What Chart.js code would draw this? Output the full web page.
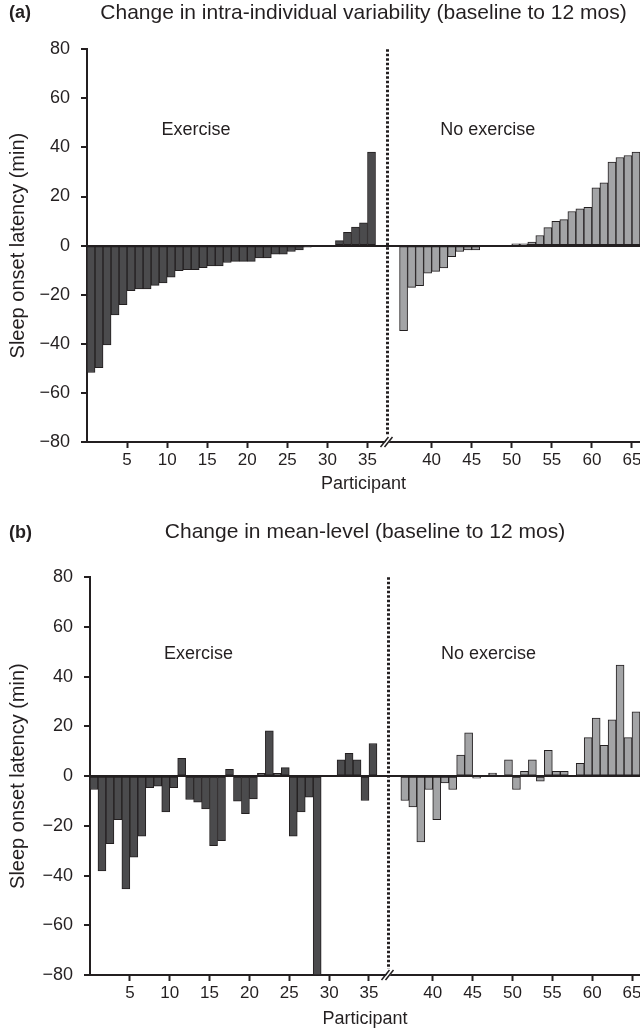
<!DOCTYPE html>
<html>
<head>
<meta charset="utf-8">
<script src="https://cdn.jsdelivr.net/npm/chart.js@4.4.1/dist/chart.umd.min.js"></script>
<style>
  body { margin: 0; background: #fff; width: 640px; height: 1035px; position: relative; overflow: hidden;
         font-family: "Liberation Sans", Arial, sans-serif; color: #231f20; }
  .panel { position: absolute; left: 0; width: 640px; }
  .tag { position: absolute; left: 9px; font-weight: bold; font-size: 18px; line-height: 20px; }
</style>
</head>
<body>
<div class="panel" style="top:0;height:505px"><canvas id="chartA" width="640" height="505"></canvas></div>
<div class="tag" style="top:2px">(a)</div>
<div class="panel" style="top:519px;height:516px"><canvas id="chartB" width="640" height="516"></canvas></div>
<div class="tag" style="top:522px">(b)</div>
<script>
// participants, split into the two groups
const exerciseIds = [1, 2, 3, 4, 5, 6, 7, 8, 9, 10, 11, 12, 13, 14, 15, 16, 17, 18,
  19, 20, 21, 22, 23, 24, 25, 26, 27, 28, 29, 30, 31, 32, 33, 34, 35, 36];
const noExerciseIds = [37, 38, 39, 40, 41, 42, 43, 44, 45, 46, 47, 48, 49, 50, 51,
  52, 53, 54, 55, 56, 57, 58, 59, 60, 61, 62, 63, 64, 65, 66];
const xTickLabels = [5, 10, 15, 20, 25, 30, 35, 40, 45, 50, 55, 60, 65];

// (a) change in intra-individual variability, minutes
const variabilityExercise = [-51.7, -49.7, -40.5, -28.2, -24.1, -18.4, -17.6, -17.6, -16.2, -15.2,
  -12.9, -10.2, -9.8, -9.8, -9.0, -8.3, -8.3, -6.9, -6.4, -6.4, -6.4, -5.0, -5.0, -3.5, -3.5,
  -2.4, -1.8, -0.6, 0, 0, 0, 2.0, 5.4, 7.5, 9.3, 38.1];
const variabilityNoExercise = [-34.7, -17.0, -16.3, -11.2, -10.5, -9.1, -4.5, -2.4, -1.8, -1.8,
  0, 0, 0, 0, 0.7, 0.7, 1.4, 4.1, 7.3, 9.9, 10.6, 13.9, 15.0, 15.6, 23.5, 25.6, 34.0, 35.9, 36.7, 38.1];

// (b) change in mean level, minutes
const meanExercise = [-5.4, -38.1, -27.2, -17.5, -45.4, -32.6, -24.2, -4.7, -4.0, -14.4,
  -4.7, 7.1, -9.4, -10.5, -13.2, -28.0, -26.0, 2.7, -10.1, -15.1, -9.2, 1.1, 18.2, 1.1, 3.4,
  -24.2, -14.4, -8.5, -80, 0, 0, 6.5, 9.2, 6.5, -9.8, 13.1];
const meanNoExercise = [-9.8, -12.4, -26.5, -5.4, -17.5, -2.7, -5.4, 8.5, 17.4, -0.8,
  0, 1.2, 0, 6.5, -5.4, 1.9, 6.5, -2.0, 10.4, 1.9, 1.9, 0, 5.1, 15.5, 23.3, 12.4, 22.6, 44.7, 15.5, 25.8];

const INK = '#231f20';
const EX_FILL = '#4b4b4d';
const NOEX_FILL = '#a3a4a6';
const FONT = '"Liberation Sans", Arial, sans-serif';
const GAP = 3; // empty slots for the axis break between the groups

Chart.defaults.font.family = FONT;
Chart.defaults.color = INK;

function axisPos(id) {
  return id <= exerciseIds.length ? id : id + GAP;
}
function barPoints(ids, values) {
  return ids.map((id, i) => ({ x: axisPos(id) - 0.5, y: values[i] }));
}

// dotted group divider, the // break on the x axis and the group captions
const dividerPlugin = {
  id: 'divider',
  afterDatasetsDraw(chart, args, opts) {
    const { ctx, chartArea, scales: { x, y } } = chart;
    const px = Math.round(x.getPixelForValue(exerciseIds.length + GAP / 2)) - 0.5;
    const by = chartArea.bottom;
    ctx.save();
    ctx.strokeStyle = INK;
    ctx.lineWidth = 3;
    ctx.setLineDash([2.5, 2]);
    ctx.beginPath();
    ctx.moveTo(px, chartArea.top);
    ctx.lineTo(px, by - 6);
    ctx.stroke();
    ctx.setLineDash([]);

    ctx.fillStyle = '#fff';
    ctx.beginPath();
    ctx.moveTo(px - 6, by + 5);
    ctx.lineTo(px - 2, by + 5);
    ctx.lineTo(px + 6, by - 5);
    ctx.lineTo(px + 2, by - 5);
    ctx.closePath();
    ctx.fill();
    ctx.lineWidth = 1.5;
    ctx.beginPath();
    ctx.moveTo(px - 7, by + 5); ctx.lineTo(px + 1, by - 5);
    ctx.moveTo(px - 3, by + 5); ctx.lineTo(px + 5, by - 5);
    ctx.stroke();

    ctx.fillStyle = INK;
    ctx.font = '18px ' + FONT;
    ctx.textAlign = 'center';
    ctx.textBaseline = 'middle';
    opts.labels.forEach((l) => ctx.fillText(l.text, x.getPixelForValue(l.x), y.getPixelForValue(l.y)));
    ctx.restore();
  }
};

function makeChart(id, title, exVals, noExVals, o) {
  return new Chart(document.getElementById(id), {
    type: 'bar',
    data: {
      datasets: [
        { label: 'Exercise', data: barPoints(exerciseIds, exVals), backgroundColor: EX_FILL },
        { label: 'No exercise', data: barPoints(noExerciseIds, noExVals), backgroundColor: NOEX_FILL },
      ],
    },
    options: {
      responsive: false,
      animation: false,
      layout: { padding: 0 },
      datasets: {
        bar: { grouped: false, barPercentage: 1, categoryPercentage: 1, borderColor: INK, borderWidth: 1, borderSkipped: false },
      },
      plugins: {
        legend: { display: false },
        tooltip: { enabled: false },
        title: {
          display: true, text: title, fullSize: false, color: INK,
          font: { size: 21, weight: 'normal' }, padding: { top: 1, bottom: o.titleGap },
        },
        divider: { labels: o.labels },
      },
      scales: {
        x: {
          type: 'linear',
          min: 0,
          max: axisPos(noExerciseIds[noExerciseIds.length - 1]),
          offset: false,
          afterBuildTicks: (s) => { s.ticks = xTickLabels.map((n) => ({ value: axisPos(n) })); },
          afterFit: (s) => { s.height = o.xHeight; s.paddingLeft = 0; s.paddingRight = 0; },
          ticks: { callback: (v, i) => String(xTickLabels[i]), color: INK, font: { size: 17 }, padding: 2, maxRotation: 0, autoSkip: false },
          grid: { drawOnChartArea: false, offset: false, tickLength: 6, tickColor: INK, tickWidth: 2 },
          border: { color: INK, width: 2 },
          title: { display: true, text: 'Participant', color: INK, font: { size: 18 }, padding: { top: 0, bottom: o.xTitlePad } },
        },
        y: {
          min: -80,
          max: 80,
          afterFit: (s) => { s.width = o.yWidth; s.paddingTop = 0; s.paddingBottom = 0; },
          ticks: { stepSize: 20, callback: (v) => (v < 0 ? '\u2212' + (-v) : String(v)), color: INK, font: { size: 18 }, padding: 11 },
          grid: {
            color: (c) => (c.tick && c.tick.value === 0 ? INK : 'rgba(0,0,0,0)'),
            lineWidth: (c) => (c.tick && c.tick.value === 0 ? 2 : 0),
            tickLength: 6, tickColor: INK, tickWidth: 2,
          },
          border: { color: INK, width: 2 },
          title: { display: true, text: 'Sleep onset latency (min)', color: INK, font: { size: 20 }, padding: { top: 6, bottom: 0 } },
        },
      },
    },
    plugins: [dividerPlugin],
  });
}

makeChart('chartA', 'Change in intra-individual variability (baseline to 12 mos)',
  variabilityExercise, variabilityNoExercise,
  { titleGap: 23, xHeight: 63, xTitlePad: 10, yWidth: 87,
    labels: [{ text: 'Exercise', x: 13.6, y: 47 }, { text: 'No exercise', x: 50, y: 47 }] });

makeChart('chartB', 'Change in mean-level (baseline to 12 mos)',
  meanExercise, meanNoExercise,
  { titleGap: 32, xHeight: 60, xTitlePad: 5, yWidth: 90,
    labels: [{ text: 'Exercise', x: 13.6, y: 49 }, { text: 'No exercise', x: 50, y: 49 }] });
</script>
</body>
</html>
